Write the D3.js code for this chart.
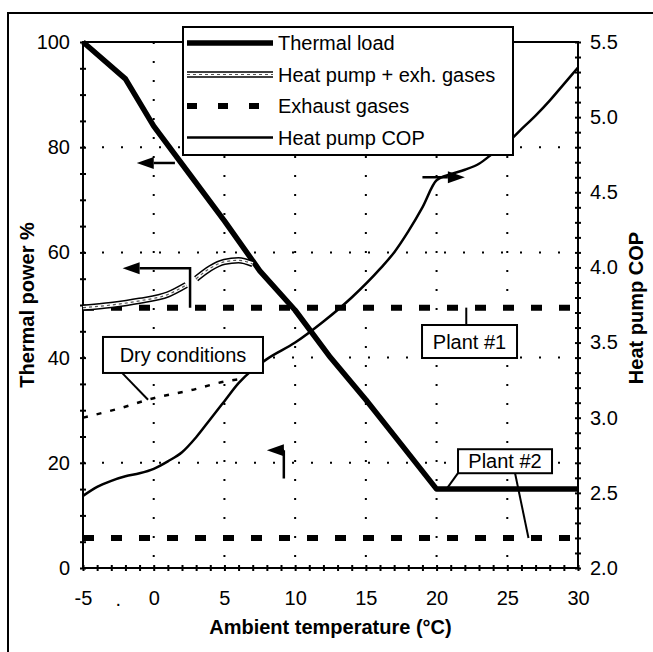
<!DOCTYPE html>
<html>
<head>
<meta charset="utf-8">
<script src="https://cdn.jsdelivr.net/npm/d3@7"></script>
<style>
  body { margin: 0; background: #fff; }
  text { font-family: "Liberation Sans", Arial, sans-serif; fill: #000; }
</style>
</head>
<body>
<div id="chart"></div>
<script>
// Data
// ==============================
var thermalTemp = [-5, -2, 0, 2.5, 5, 7.5, 10, 12.5, 15, 17.5, 20, 30];
var thermalLoad = [100, 93, 84, 75, 66, 56.5, 49, 40, 32, 23.5, 15, 15];

// heat pump + exhaust gases, drawn in two pieces (broken by the arrow)
var hpExhTempA = [-5, -3, -1, 1, 2.3];
var hpExhGasesA = [49.5, 50, 50.8, 52, 53.8];
var hpExhTempB = [3, 4, 5, 6, 7];
var hpExhGasesB = [55, 57, 58.2, 58.5, 57.8];

var exhTemp = [-5, 30];
var plant1Exhaust = [49.5, 49.5];
var plant2Exhaust = [5.7, 5.7];

var copTemp = [-5, -4, -3, -2, -1, 0, 1, 2, 3, 4, 5, 6, 7, 8, 10, 12, 14, 16, 17, 18, 19, 20, 21, 22, 23, 24, 25, 26, 27, 28, 29, 30];
var copValues = [2.48, 2.54, 2.58, 2.61, 2.63, 2.66, 2.71, 2.77, 2.87, 2.99, 3.11, 3.23, 3.32, 3.39, 3.5, 3.64, 3.8, 3.99, 4.1, 4.24, 4.4, 4.58, 4.62, 4.65, 4.69, 4.76, 4.83, 4.92, 5.01, 5.11, 5.22, 5.33];

var dryTemp = [-5, -2.5, 0, 2.5, 5, 6.3];
var dryCop = [3.0, 3.06, 3.13, 3.18, 3.24, 3.26];

var xTicks = [-5, 0, 5, 10, 15, 20, 25, 30];
var leftTicks = [0, 20, 40, 60, 80, 100];
var rightTicks = [2.0, 2.5, 3.0, 3.5, 4.0, 4.5, 5.0, 5.5];

var legendLabels = ["Thermal load", "Heat pump + exh. gases", "Exhaust gases", "Heat pump COP"];

// SVG area and margins
var svgWidth = 653;
var svgHeight = 652;
var chartMargin = { top: 42, right: 75, bottom: 84, left: 83 };
var width = svgWidth - chartMargin.left - chartMargin.right;
var height = svgHeight - chartMargin.top - chartMargin.bottom;

var svg = d3.select("#chart")
    .append("svg")
    .attr("width", svgWidth)
    .attr("height", svgHeight);

// scanned page frame (top and left edges only)
svg.append("path")
    .attr("d", "M8,652 V13 H653")
    .attr("fill", "none")
    .attr("stroke", "#000")
    .attr("stroke-width", 2);

var chartGroup = svg.append("g")
    .attr("transform", `translate(${chartMargin.left}, ${chartMargin.top})`);

// Scales
var xScale = d3.scaleLinear().domain([-5, 30]).range([0, width]);
var yLeft = d3.scaleLinear().domain([0, 100]).range([height, 0]);
var yRight = d3.scaleLinear().domain([2, 5.5]).range([height, 0]);

// Dotted grid
var gridX = [0, 5, 10, 15, 20, 25];
var gridY = [20, 40, 60, 80];
chartGroup.selectAll(".gx").data(gridX).enter().append("line")
    .attr("x1", d => xScale(d)).attr("x2", d => xScale(d))
    .attr("y1", 0).attr("y2", height)
    .attr("stroke", "#000").attr("stroke-width", 2)
    .attr("stroke-dasharray", "2,17");
chartGroup.selectAll(".gy").data(gridY).enter().append("line")
    .attr("x1", 0).attr("x2", width)
    .attr("y1", d => yLeft(d)).attr("y2", d => yLeft(d))
    .attr("stroke", "#000").attr("stroke-width", 2)
    .attr("stroke-dasharray", "2,17");

// Axes: labels
var fontSize = "20px";
chartGroup.append("g")
    .call(d3.axisLeft(yLeft).tickValues(leftTicks).tickSize(0).tickPadding(13).tickFormat(d => d))
    .call(g => g.select(".domain").remove())
    .selectAll("text").style("font-size", fontSize).style("font-family", null);

chartGroup.append("g")
    .attr("transform", `translate(${width}, 0)`)
    .call(d3.axisRight(yRight).tickValues(rightTicks).tickSize(0).tickPadding(12).tickFormat(d => d.toFixed(1)))
    .call(g => g.select(".domain").remove())
    .selectAll("text").style("font-size", fontSize).style("font-family", null);

chartGroup.append("g")
    .attr("transform", `translate(0, ${height})`)
    .call(d3.axisBottom(xScale).tickValues(xTicks).tickSize(0).tickPadding(23).tickFormat(d => String(d)))
    .call(g => g.select(".domain").remove())
    .selectAll("text").style("font-size", fontSize).style("font-family", null);

// Axes: small tick marks crossing the axis lines
chartGroup.append("g")
    .attr("transform", "translate(3, 0)")
    .call(d3.axisLeft(yLeft).tickValues(d3.range(0, 101, 5)).tickSize(6).tickFormat(""))
    .call(g => g.select(".domain").remove())
    .selectAll("line").attr("stroke-width", 2);

chartGroup.append("g")
    .attr("transform", `translate(${width + 3}, 0)`)
    .call(d3.axisLeft(yRight).tickValues(d3.range(20, 56, 1).map(d => d / 10)).tickSize(6).tickFormat(""))
    .call(g => g.select(".domain").remove())
    .selectAll("line").attr("stroke-width", 2);

chartGroup.append("g")
    .attr("transform", `translate(0, ${height - 3})`)
    .call(d3.axisBottom(xScale).tickValues(d3.range(-5, 31, 1)).tickSize(6).tickFormat(""))
    .call(g => g.select(".domain").remove())
    .selectAll("line").attr("stroke-width", 2);

// axis lines and plot frame
chartGroup.append("path")
    .attr("d", `M0,0 V${height} H${width} V0 Z`)
    .attr("fill", "none")
    .attr("stroke", "#000")
    .attr("stroke-width", 2);

// stray dot printed on the x label row
chartGroup.append("text")
    .attr("x", xScale(-2.5))
    .attr("y", height + 38)
    .attr("text-anchor", "middle")
    .style("font-size", fontSize)
    .text(".");

// Axis titles
chartGroup.append("text")
    .attr("transform", `translate(${27 - chartMargin.left}, ${305 - chartMargin.top}) rotate(-90)`)
    .attr("text-anchor", "middle")
    .attr("dy", "0.35em")
    .style("font-size", fontSize)
    .style("font-weight", "bold")
    .text("Thermal power %");

chartGroup.append("text")
    .attr("transform", `translate(${636 - chartMargin.left}, ${308 - chartMargin.top}) rotate(-90)`)
    .attr("text-anchor", "middle")
    .attr("dy", "0.35em")
    .style("font-size", fontSize)
    .style("font-weight", "bold")
    .text("Heat pump COP");

chartGroup.append("text")
    .attr("x", width / 2)
    .attr("y", 627 - chartMargin.top)
    .attr("text-anchor", "middle")
    .attr("dy", "0.35em")
    .style("font-size", fontSize)
    .style("font-weight", "bold")
    .text("Ambient temperature (\u00B0C)");

// Line generators
var leftLine = d3.line().x(d => xScale(d[0])).y(d => yLeft(d[1]));
var rightLine = d3.line().x(d => xScale(d[0])).y(d => yRight(d[1])).curve(d3.curveMonotoneX);
var smoothLeft = d3.line().x(d => xScale(d[0])).y(d => yLeft(d[1])).curve(d3.curveMonotoneX);

// Heat pump COP (right axis) and dry conditions
chartGroup.append("path")
    .attr("d", rightLine(d3.zip(copTemp, copValues)))
    .attr("fill", "none").attr("stroke", "#000").attr("stroke-width", 2.5);

chartGroup.append("path")
    .attr("d", rightLine(d3.zip(dryTemp, dryCop)))
    .attr("fill", "none").attr("stroke", "#000").attr("stroke-width", 2.5)
    .attr("stroke-dasharray", "5,9");

// Exhaust gases
[plant1Exhaust, plant2Exhaust].forEach(function(series) {
    chartGroup.append("path")
        .attr("d", leftLine(d3.zip(exhTemp, series)))
        .attr("fill", "none").attr("stroke", "#000").attr("stroke-width", 6)
        .attr("stroke-dasharray", "11,17");
});

// Thermal load
chartGroup.append("path")
    .attr("d", leftLine(d3.zip(thermalTemp, thermalLoad)))
    .attr("fill", "none").attr("stroke", "#000").attr("stroke-width", 5.5)
    .attr("stroke-linejoin", "round");

// Heat pump + exhaust gases (hollow double line)
function hollow(sel, d) {
    sel.append("path").attr("d", d).attr("fill", "none")
        .attr("stroke", "#000").attr("stroke-width", 6.5);
    sel.append("path").attr("d", d).attr("fill", "none")
        .attr("stroke", "#fff").attr("stroke-width", 3.5);
    sel.append("path").attr("d", d).attr("fill", "none")
        .attr("stroke", "#555").attr("stroke-width", 1.2).attr("stroke-dasharray", "3,3");
}
hollow(chartGroup, smoothLeft(d3.zip(hpExhTempA, hpExhGasesA)));
hollow(chartGroup, smoothLeft(d3.zip(hpExhTempB, hpExhGasesB)));

// Arrows
function arrow(pts) {
    var n = pts.length, tip = pts[n - 1], prev = pts[n - 2];
    var ang = Math.atan2(tip[1] - prev[1], tip[0] - prev[0]);
    var len = 17, hw = 6;
    var base = [tip[0] - len * Math.cos(ang), tip[1] - len * Math.sin(ang)];
    chartGroup.append("path")
        .attr("d", d3.line()(pts.slice(0, n - 1).concat([base])))
        .attr("fill", "none").attr("stroke", "#000").attr("stroke-width", 2.5);
    var px = -Math.sin(ang) * hw, py = Math.cos(ang) * hw;
    chartGroup.append("path")
        .attr("d", `M${tip[0]},${tip[1]} L${base[0] + px},${base[1] + py} L${base[0] - px},${base[1] - py} Z`)
        .attr("fill", "#000");
}
arrow([[xScale(1.5), yLeft(77)], [xScale(-1.2), yLeft(77)]]);
arrow([[xScale(2.57), yLeft(49.5)], [xScale(2.57), yLeft(57)], [xScale(-2.2), yLeft(57)]]);
arrow([[xScale(19), yRight(4.6)], [xScale(22), yRight(4.6)]]);
arrow([[xScale(9.2), yLeft(17)], [xScale(9.2), yLeft(22.4)], [xScale(8.0), yLeft(22.4)]]);

// Callout boxes with leader lines
function leader(x1, y1, x2, y2) {
    chartGroup.append("line")
        .attr("x1", x1).attr("y1", y1).attr("x2", x2).attr("y2", y2)
        .attr("stroke", "#000").attr("stroke-width", 2);
}
function callout(label, cx, cy, w, h) {
    chartGroup.append("rect")
        .attr("x", cx - w / 2).attr("y", cy - h / 2)
        .attr("width", w).attr("height", h)
        .attr("fill", "#fff").attr("stroke", "#000").attr("stroke-width", 2);
    chartGroup.append("text")
        .attr("x", cx).attr("y", cy).attr("dy", "0.36em")
        .attr("text-anchor", "middle")
        .style("font-size", fontSize)
        .text(label);
}

leader(xScale(-2.24), yLeft(37.1), xScale(-0.4), yRight(3.12));
callout("Dry conditions", xScale(2.07), yLeft(40.5), 160, 36);

leader(xScale(22.1), yLeft(46), xScale(22.1), yLeft(49.5));
callout("Plant #1", xScale(22.33), yLeft(43.06), 95, 33);

leader(xScale(21.5), yLeft(18), xScale(20.7), yLeft(15));
leader(xScale(25.55), yLeft(18), xScale(26.5), yLeft(5.7));
callout("Plant #2", xScale(24.84), yLeft(20.3), 94, 24);

// Legend
var legendX = 183 - chartMargin.left;
var legendY = 27 - chartMargin.top;
var legend = chartGroup.append("g");
legend.append("rect")
    .attr("x", legendX).attr("y", legendY)
    .attr("width", 330).attr("height", 128)
    .attr("fill", "#fff").attr("stroke", "#000").attr("stroke-width", 2);

legendLabels.forEach(function(label, i) {
    var ry = legendY + 16 + i * 31.5;
    var d = `M${legendX + 4},${ry} H${legendX + 90}`;
    if (i === 0) {
        legend.append("path").attr("d", d).attr("stroke", "#000").attr("stroke-width", 5.5);
    } else if (i === 1) {
        hollow(legend, d);
    } else if (i === 2) {
        legend.append("path").attr("d", d).attr("stroke", "#000").attr("stroke-width", 6)
            .attr("stroke-dasharray", "10,21");
    } else {
        legend.append("path").attr("d", d).attr("stroke", "#000").attr("stroke-width", 2.5);
    }
    legend.append("text")
        .attr("x", legendX + 95).attr("y", ry).attr("dy", "0.36em")
        .style("font-size", fontSize)
        .text(label);
});
</script>
</body>
</html>
